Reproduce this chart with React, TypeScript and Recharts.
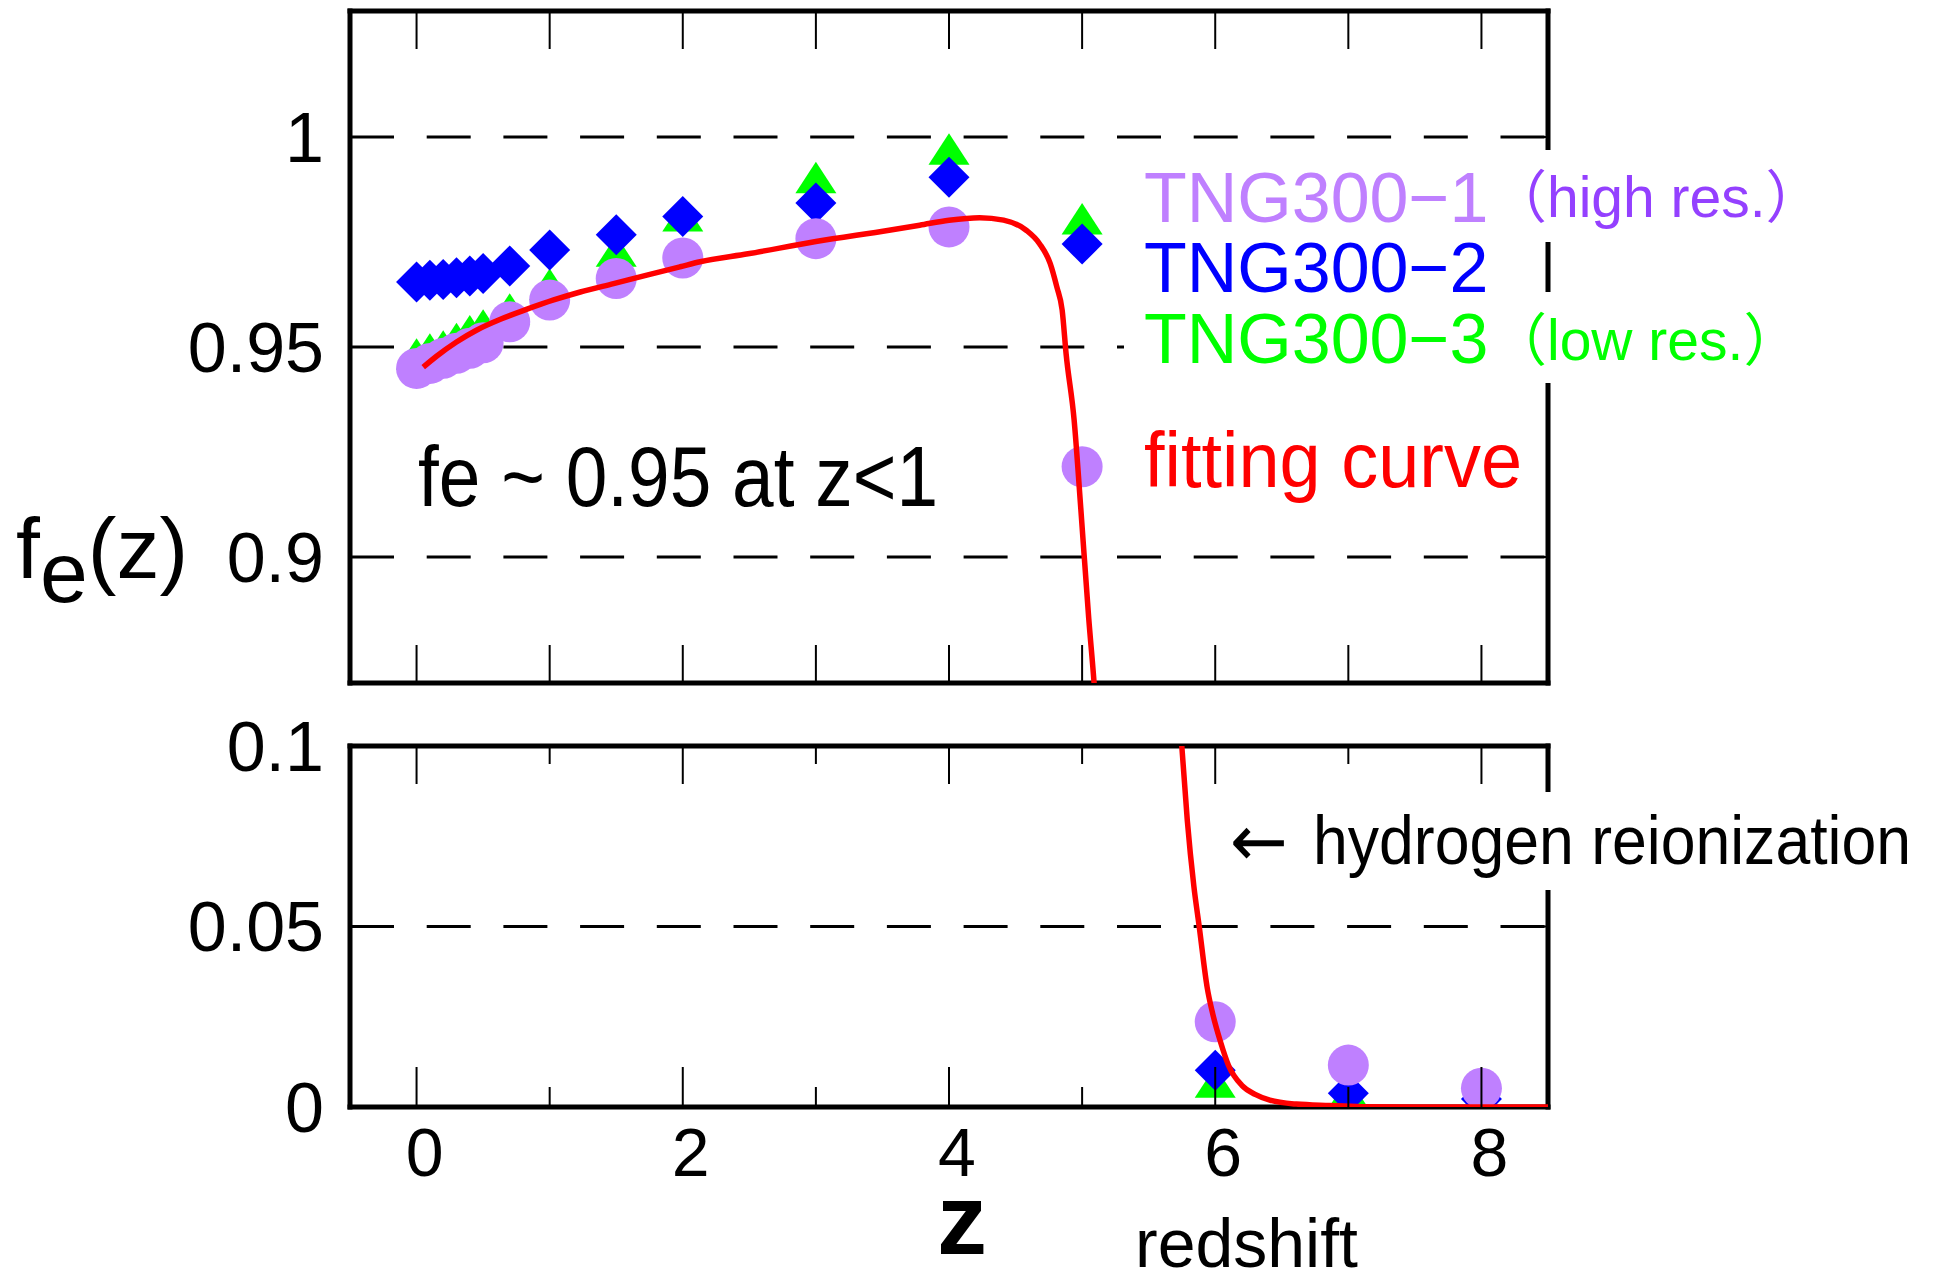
import React from "react";
import { ComposedChart, Scatter, Line, XAxis, YAxis, CartesianGrid } from "recharts";

// redshift snapshots and the electron fraction
const redshifts = [0, 0.1, 0.2, 0.3, 0.4, 0.5, 0.7, 1, 1.5, 2, 3, 4, 5, 6, 7, 8];
const tng300_1 = [0.9449, 0.9461, 0.9473, 0.9485, 0.9497, 0.951, 0.956, 0.9612, 0.9663, 0.9712, 0.9758, 0.9786, 0.9215, 0.0236, 0.0116, 0.0052];
const tng300_2 = [0.9655, 0.9659, 0.9661, 0.9665, 0.9669, 0.9675, 0.9693, 0.9731, 0.9767, 0.9811, 0.9843, 0.9904, 0.9745, 0.0102, 0.0038, 0.0022];
const tng300_3 = [0.9471, 0.9483, 0.949, 0.9508, 0.9526, 0.954, 0.9578, 0.9637, 0.9716, 0.98, 0.9891, 0.9959, 0.9793, 0.0055, 0.0024, 0.0006];

// fitting curve, sampled along the red line
const fitZ = [0.05, 0.15, 0.3, 0.45, 0.63, 0.83, 1.03, 1.23, 1.48, 1.73, 1.98, 2.13, 2.49, 3.0, 3.55, 3.78, 4.0, 4.23, 4.41, 4.58, 4.68, 4.76, 4.81, 4.85, 4.88, 4.94, 4.99, 5.05, 5.09, 5.75, 5.79, 5.84, 5.88, 5.94, 5.98, 6.04, 6.1, 6.2, 6.3, 6.41, 6.61, 6.86, 7.1, 7.5, 8.0, 8.5];
const fitFe = [0.9452, 0.9478, 0.9512, 0.954, 0.9566, 0.959, 0.9612, 0.9631, 0.9651, 0.9671, 0.9691, 0.9703, 0.9722, 0.9751, 0.9778, 0.979, 0.9802, 0.9808, 0.9802, 0.9778, 0.9746, 0.9699, 0.9643, 0.9588, 0.9483, 0.9326, 0.9116, 0.8853, 0.87, 0.0994, 0.0795, 0.061, 0.0499, 0.033, 0.026, 0.018, 0.0115, 0.006, 0.0035, 0.0019, 0.0008, 0.0004, 0.0001, 0, 0, 0];

const xTicks = [0, 1, 2, 3, 4, 5, 6, 7, 8];
const xTicksMajor = [0, 2, 4, 6, 8];
const yTicksTop = [0.9, 0.95, 1];
const yTicksBottom = [0, 0.05, 0.1];

const FONT = '"Liberation Sans", Arial, Helvetica, sans-serif';
const CJK = '"Liberation Sans", "Noto Sans CJK JP", sans-serif';

const toPoints = (vals: number[]) => redshifts.map((z, i) => ({ z, v: vals[i] }));
const set1 = toPoints(tng300_1);
const set2 = toPoints(tng300_2);
const set3 = toPoints(tng300_3);
const fitData = fitZ.map((z, i) => ({ z, v: fitFe[i] }));

const Circle = (p: any) => <circle cx={p.cx} cy={p.cy} r={20.5} fill="#bf80ff" />;

const Diamond = (p: any) => {
  const s = 20.5;
  return (
    <polygon
      points={`${p.cx},${p.cy - s} ${p.cx + s},${p.cy} ${p.cx},${p.cy + s} ${p.cx - s},${p.cy}`}
      fill="#0000ff"
    />
  );
};

const Triangle = (p: any) => (
  <polygon
    points={`${p.cx},${p.cy - 21} ${p.cx + 20.5},${p.cy + 10.5} ${p.cx - 20.5},${p.cy + 10.5}`}
    fill="#00ff00"
  />
);

type TickLens = { topMajor: number; topMinor: number; botMajor: number; botMinor: number };

// inward ticks on the bottom and top frame edges, plus the label for even z
const makeXTick = (plotH: number, labels: boolean, lens: TickLens) => (p: any) => {
  const v = p.payload.value;
  const major = xTicksMajor.includes(v);
  const bl = major ? lens.botMajor : lens.botMinor;
  const tl = major ? lens.topMajor : lens.topMinor;
  return (
    <g>
      <line x1={p.x} x2={p.x} y1={p.y} y2={p.y - bl} stroke="#000" strokeWidth={2} />
      <line x1={p.x} x2={p.x} y1={p.y - plotH} y2={p.y - plotH + tl} stroke="#000" strokeWidth={2} />
      {labels && major && (
        <text x={p.x + 8} y={p.y + 69} textAnchor="middle" fill="#000" fontSize={68} fontFamily={FONT}>
          {v}
        </text>
      )}
    </g>
  );
};

const noLabel = () => <g />;

type PanelProps = {
  top: number;
  height: number;
  marginTop: number;
  marginBottom: number;
  plotH: number;
  yDomain: [number, number];
  yTicks: number[];
  labels: boolean;
  lens: TickLens;
};

const axisLine = { stroke: "#000", strokeWidth: 5, strokeLinecap: "square" as const };
const tickLine = { stroke: "#000", strokeWidth: 2 };

function Panel({ top, height, marginTop, marginBottom, plotH, yDomain, yTicks, labels, lens }: PanelProps) {
  return (
    <div style={{ position: "absolute", left: 0, top }}>
      <ComposedChart width={1937} height={height} margin={{ top: marginTop, right: 388, bottom: marginBottom, left: 0 }}>
        <CartesianGrid
          xAxisId="b"
          yAxisId="l"
          vertical={false}
          stroke="#000"
          strokeWidth={3}
          strokeDasharray="44 32.7"
        />
        <XAxis
          xAxisId="b"
          dataKey="z"
          type="number"
          domain={[-0.5, 8.5]}
          allowDataOverflow
          ticks={xTicks}
          interval={0}
          height={1}
          tickSize={0}
          tickMargin={0}
          axisLine={axisLine}
          tickLine={false}
          tick={makeXTick(plotH, labels, lens)}
        />
        <XAxis
          xAxisId="t"
          orientation="top"
          type="number"
          domain={[-0.5, 8.5]}
          allowDataOverflow
          ticks={xTicksMajor}
          interval={0}
          height={1}
          axisLine={axisLine}
          tickLine={false}
          tick={noLabel}
        />
        <YAxis
          yAxisId="l"
          dataKey="v"
          type="number"
          domain={yDomain}
          allowDataOverflow
          ticks={yTicks}
          interval={0}
          width={350}
          tickSize={-12}
          tickMargin={38}
          axisLine={axisLine}
          tickLine={tickLine}
          tick={{ fill: "#000", fontSize: 70, fontFamily: FONT }}
        />
        <YAxis
          yAxisId="r"
          orientation="right"
          type="number"
          domain={yDomain}
          allowDataOverflow
          ticks={yTicks}
          interval={0}
          width={1}
          tickSize={-12}
          axisLine={axisLine}
          tickLine={tickLine}
          tick={noLabel}
        />
        <Scatter xAxisId="b" yAxisId="l" data={set3} shape={Triangle} isAnimationActive={false} />
        <Scatter xAxisId="b" yAxisId="l" data={set2} shape={Diamond} isAnimationActive={false} />
        <Scatter xAxisId="b" yAxisId="l" data={set1} shape={Circle} isAnimationActive={false} />
        <Line
          xAxisId="b"
          yAxisId="l"
          data={fitData}
          dataKey="v"
          type="monotone"
          stroke="#ff0000"
          strokeWidth={5.5}
          dot={false}
          activeDot={false}
          isAnimationActive={false}
          zIndex={700}
        />
      </ComposedChart>
    </div>
  );
}

export default function App() {
  return (
    <div style={{ position: "absolute", left: 0, top: 0, width: 1937, height: 1273, background: "#fff", overflow: "hidden" }}>
      <Panel
        top={0}
        height={700}
        marginTop={10}
        marginBottom={16}
        plotH={672}
        yDomain={[0.87, 1.03]}
        yTicks={yTicksTop}
        labels={false}
        lens={{ topMajor: 38, topMinor: 38, botMajor: 38, botMinor: 38 }}
      />
      <Panel
        top={700}
        height={573}
        marginTop={45}
        marginBottom={165}
        plotH={361}
        yDomain={[0, 0.1]}
        yTicks={yTicksBottom}
        labels={true}
        lens={{ topMajor: 38, topMinor: 18, botMajor: 40, botMinor: 20 }}
      />
      <svg width={1937} height={1273} style={{ position: "absolute", left: 0, top: 0, pointerEvents: "none" }}>
        <rect x={1124} y={150} width={680} height={92} fill="#fff" />
        <rect x={1124} y={292} width={660} height={91} fill="#fff" />
        <rect x={1225} y={792} width={700} height={98} fill="#fff" />

        <text x={1144} y={222} fontSize={70} fontFamily={FONT} fill="#bf80ff">TNG300−1</text>
        <text x={1490} y={217} fontSize={57} fontFamily={CJK} fill="#9440ff">（high res.）</text>
        <text x={1144} y={292} fontSize={70} fontFamily={FONT} fill="#0000ff">TNG300−2</text>
        <text x={1144} y={363} fontSize={70} fontFamily={FONT} fill="#00ff00">TNG300−3</text>
        <text x={1490} y={360} fontSize={57} fontFamily={CJK} fill="#00ff00">（low res.）</text>
        <text x={1144} y={487} fontSize={78} fontFamily={FONT} fill="#ff0000" textLength={378} lengthAdjust="spacingAndGlyphs">
          fitting curve
        </text>

        <text x={418} y={506} fontSize={86} fontFamily={FONT} fill="#000" textLength={520} lengthAdjust="spacingAndGlyphs">
          fe ~ 0.95 at z&lt;1
        </text>

        <text x={1230} y={866} fontSize={72} fontFamily='"DejaVu Sans", sans-serif' fill="#000" textLength={58} lengthAdjust="spacingAndGlyphs">←</text>
        <text x={1313} y={864} fontSize={68} fontFamily={FONT} fill="#000" textLength={598} lengthAdjust="spacingAndGlyphs">
          hydrogen reionization
        </text>

        <text x={16} y={578} fontSize={86} fontFamily={FONT} fill="#000">
          f<tspan dy={24}>e</tspan>
          <tspan dy={-24}>(z)</tspan>
        </text>
        <text x={962} y={1254} fontSize={100} fontWeight="bold" fontFamily={FONT} fill="#000" textAnchor="middle">z</text>
        <text x={1135} y={1267} fontSize={68} fontFamily={FONT} fill="#000">redshift</text>
      </svg>
    </div>
  );
}
